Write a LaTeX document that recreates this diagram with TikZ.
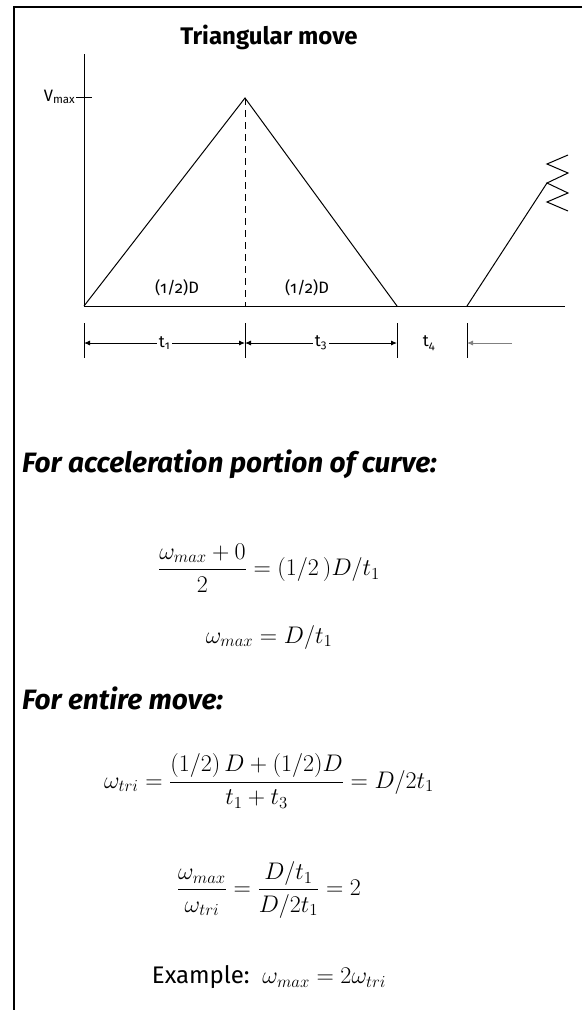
\documentclass[tikz,border=0pt]{standalone}
\usepackage{fix-cm}
\usepackage{amsmath}
\usepackage{fontspec}
\setsansfont{Fira Sans}
\newfontfamily\oldnum{Fira Sans}[Numbers=OldStyle]
\usetikzlibrary{arrows.meta, positioning}

\begin{document}
\begin{tikzpicture}[x=1pt, y=-1pt, font=\sffamily, >={Latex[length=6pt,width=5pt]},
    ttl/.style={font=\sffamily\bfseries\fontsize{24}{28}\selectfont},
    hdr/.style={font=\sffamily\bfseries\itshape\fontsize{28}{32}\selectfont, anchor=west, inner sep=0pt},
    lbl/.style={font=\oldnum\fontsize{16.5}{19}\selectfont, inner sep=1.5pt},
    eqn/.style={font=\fontsize{24}{28}\selectfont, inner sep=0pt},
    crv/.style={line width=1pt},
    dim/.style={line width=0.9pt}]
  \useasboundingbox (0,0) rectangle (582,1010);
  \draw[line width=1.8pt] (582,7) -| (14,1010);
  \node[ttl] (title) at (269,37) {Triangular move};
  \coordinate (top) at (84,54);
  \coordinate (o) at (84,306);
  \coordinate (pk) at (245,98);
  \coordinate (pkb) at (245,306);
  \coordinate (z) at (397,306);
  \coordinate (r) at (467,306);
  \coordinate (rt) at (547,183);
  \coordinate (end) at (565,306);
  \draw[crv] (top) -- (o) -- (end);
  \draw[crv] (o) -- (pk) -- (z);
  \draw[crv, dash pattern=on 7pt off 5pt] (pk) -- (pkb);
  \draw[crv] (r) -- (rt);
  \draw[crv] (568,155) -- (547,164) -- (568,173) -- (rt) -- (568,193) -- (547,202) -- (568,211);
  \coordinate (tka) at (76,97);
  \coordinate (tkb) at (92,97);
  \draw[crv] (tka) -- (tkb);
  \node[lbl, anchor=east, inner sep=0.5pt] (vmax) at (tka) {V\textsubscript{max}};
  \node[lbl] (d1) at (177,288) {(1/2)D};
  \node[lbl] (d2) at (307,288) {(1/2)D};
  \foreach \x/\n in {84/a,245/b,397/c,467/d} {
    \draw[dim] (\x,323) -- (\x,358);
    \coordinate (m\n) at (\x,343);
  }
  \coordinate (me) at (512,343);
  \draw[dim, <->] (ma) -- node[lbl, fill=white] (t1) {t\textsubscript{1}} (mb);
  \draw[dim, <->] (mb) -- node[lbl, fill=white] (t3) {t\textsubscript{3}} (mc);
  \node[lbl] (t4) at (429,343) {t\textsubscript{4}};
  \draw[dim, ->, gray] (me) -- (md);
  \node[hdr] (acc) at (22,464) {For acceleration portion of curve:};
  \node[eqn] (eq1) at (269,568) {$\dfrac{\omega_{max}+0}{2} = (1/2\,)D/t_1$};
  \node[eqn] (eq2) at (269,637) {$\omega_{max} = D/t_1$};
  \node[hdr] (ent) at (22,698) {For entire move:};
  \node[eqn] (eq3) at (269,781) {$\omega_{tri} = \dfrac{(1/2)\,D+(1/2)D}{t_1+t_3} = D/2t_1$};
  \node[eqn] (eq4) at (269,890) {$\dfrac{\omega_{max}}{\omega_{tri}} = \dfrac{D/t_1}{D/2t_1} = 2$};
  \node[eqn] (ex) at (269,977) {\sffamily Example:\ \ $\omega_{max} = 2\omega_{tri}$};
\end{tikzpicture}
\end{document}
